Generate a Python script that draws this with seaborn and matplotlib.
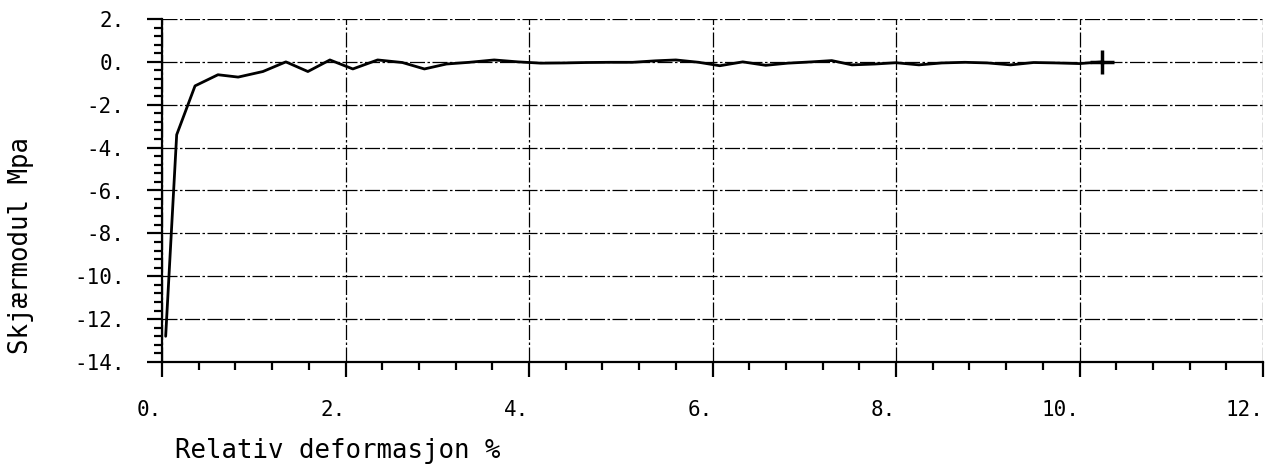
import matplotlib
matplotlib.use("Agg")
import matplotlib.pyplot as plt
import seaborn as sns
import numpy as np
import pandas as pd
from matplotlib.ticker import MultipleLocator, FixedLocator

# ---- data ----
deformation = [0.04, 0.16, 0.36, 0.61, 0.83, 1.10, 1.35, 1.59, 1.83, 2.08, 2.35,
               2.62, 2.86, 3.10, 3.35, 3.62, 3.88, 4.13, 4.38, 4.62, 4.88, 5.13,
               5.38, 5.60, 5.85, 6.08, 6.33, 6.58, 6.82, 7.08, 7.30, 7.52, 7.77,
               8.00, 8.25, 8.50, 8.75, 9.00, 9.25, 9.50, 9.75, 10.00, 10.25]
shear_modulus = [-12.8, -3.4, -1.12, -0.60, -0.71, -0.45, 0.00, -0.45, 0.09, -0.33, 0.09,
                 -0.03, -0.33, -0.10, -0.02, 0.09, 0.00, -0.06, -0.05, -0.03, -0.02, -0.02,
                 0.05, 0.09, -0.02, -0.18, 0.00, -0.16, -0.06, 0.00, 0.06, -0.14, -0.10,
                 -0.04, -0.14, -0.05, -0.02, -0.05, -0.14, -0.03, -0.05, -0.08, 0.00]
x_ticks = [0, 2, 4, 6, 8, 10, 12]
x_tick_labels = ["0.", "2.", "4.", "6.", "8.", "10.", "12."]
y_ticks = [2, 0, -2, -4, -6, -8, -10, -12, -14]
y_tick_labels = ["2.", "0.", "-2.", "-4.", "-6.", "-8.", "-10.", "-12.", "-14."]
x_label = "Relativ deformasjon %"
y_label = "Skjærmodul Mpa"

df = pd.DataFrame({"x": deformation, "y": shear_modulus})

sns.set_theme(style="white")
plt.rcParams["font.family"] = ["DejaVu Sans Mono"]

fig = plt.figure(figsize=(12.85, 4.69), dpi=100)
ax = fig.add_axes([162 / 1285, 1 - 362 / 469, (1263 - 162) / 1285, (362 - 19) / 469])

sns.lineplot(data=df, x="x", y="y", ax=ax, color="black", linewidth=2.0,
             estimator=None, sort=False)
ax.plot(deformation[-1:], shear_modulus[-1:], marker="+", color="black",
        markersize=17, markeredgewidth=2.5, linestyle="none")

ax.set_xlim(0, 12)
ax.set_ylim(-14, 2)
ax.xaxis.set_major_locator(FixedLocator(x_ticks))
ax.set_xticklabels(x_tick_labels)
ax.yaxis.set_major_locator(FixedLocator(y_ticks))
ax.set_yticklabels(y_tick_labels)
ax.xaxis.set_minor_locator(MultipleLocator(0.4))
ax.yaxis.set_minor_locator(MultipleLocator(0.4))

ax.grid(True, which="major", color="black", linewidth=0.9,
        linestyle=(0, (12, 2, 2, 2)))
ax.set_axisbelow(True)

for s in ["top", "right"]:
    ax.spines[s].set_visible(False)
for s in ["left", "bottom"]:
    ax.spines[s].set_color("black")
    ax.spines[s].set_linewidth(1.6)

ax.tick_params(axis="both", which="major", direction="out", length=11,
               width=1.6, color="black", labelsize=15, labelcolor="black")
ax.tick_params(axis="y", which="major", pad=16)
ax.tick_params(axis="x", which="major", pad=16)
ax.tick_params(axis="both", which="minor", direction="out", length=6,
               width=1.6, color="black")
ax.tick_params(axis="both", which="both", bottom=True, left=True)
for lab in ax.get_xticklabels():
    lab.set_horizontalalignment("right")

ax.set_xlabel("")
ax.set_ylabel("")
fig.text(175 / 1285, 1 - 458 / 469, x_label, fontsize=18.5, ha="left",
         va="baseline", color="black")
fig.text(21 / 1285, 1 - 246 / 469, y_label, fontsize=18.5, rotation=90,
         ha="center", va="center", color="black")

fig.savefig("out.png", dpi=100)
